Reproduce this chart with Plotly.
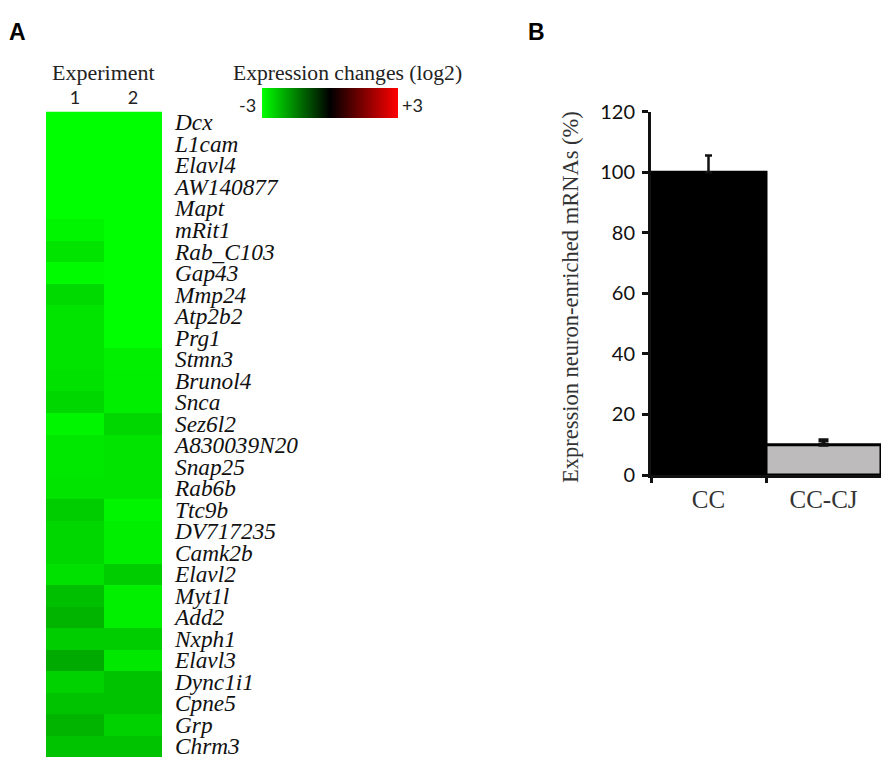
import plotly.graph_objects as go

W, H = 892, 766

genes = ["Dcx", "L1cam", "Elavl4", "AW140877", "Mapt", "mRit1", "Rab_C103", "Gap43", "Mmp24", "Atp2b2",
         "Prg1", "Stmn3", "Brunol4", "Snca", "Sez6l2", "A830039N20", "Snap25", "Rab6b", "Ttc9b", "DV717235",
         "Camk2b", "Elavl2", "Myt1l", "Add2", "Nxph1", "Elavl3", "Dync1i1", "Cpne5", "Grp", "Chrm3"]
experiments = ["1", "2"]
exp1 = [-3.0, -3.0, -3.0, -3.0, -3.0, -2.88, -2.68, -2.94, -2.56, -2.68,
        -2.68, -2.68, -2.65, -2.53, -2.88, -2.73, -2.73, -2.68, -2.41, -2.53,
        -2.53, -2.65, -2.24, -2.12, -2.41, -2.0, -2.47, -2.29, -2.12, -2.29]
exp2 = [-3.0, -3.0, -3.0, -3.0, -3.0, -3.0, -3.0, -3.0, -3.0, -3.0,
        -3.0, -2.82, -2.8, -2.8, -2.53, -2.68, -2.68, -2.68, -2.88, -2.8,
        -2.8, -2.41, -2.82, -2.82, -2.41, -2.73, -2.29, -2.29, -2.47, -2.29]

bar_groups = ["CC", "CC-CJ"]
bar_values = [100, 10]
bar_errors = [5.5, 1.5]
bar_colors = ["#000000", "#bdbbbc"]
err_thickness = [2.5, 4]
err_caps = [3.5, 5]
y_ticks = [0, 20, 40, 60, 80, 100, 120]

SERIF = "Liberation Serif"
SANS = "Lato"


def px_x(v):
    return v / W


def px_y(v):
    return 1 - v / H


fig = go.Figure()
fig.add_trace(go.Heatmap(
    z=[[a, b] for a, b in zip(exp1, exp2)],
    x=experiments,
    y=genes,
    zmin=-3, zmax=3,
    colorscale=[[0, "#00ff00"], [0.5, "#000000"], [1, "#ff0000"]],
    xaxis="x", yaxis="y",
    colorbar=dict(
        orientation="h", lenmode="pixels", len=136, thicknessmode="pixels", thickness=30,
        x=px_x(262), xanchor="left", y=px_y(118), yanchor="bottom",
        xpad=0, ypad=0, outlinewidth=0, showticklabels=False, ticks="",
    ),
))
for i in range(len(bar_groups)):
    fig.add_trace(go.Bar(
        x=[bar_groups[i]],
        y=[bar_values[i]],
        width=1,
        marker=dict(color=bar_colors[i], line=dict(color="#000000", width=3)),
        error_y=dict(type="data", symmetric=False, array=[bar_errors[i]], arrayminus=[0],
                     color="#111111", thickness=err_thickness[i], width=err_caps[i]),
        xaxis="x2", yaxis="y2",
        showlegend=False,
    ))

annotations = [
    dict(text="<b>A</b>", x=px_x(7), y=px_y(32), xanchor="left", font=dict(family="Liberation Sans", size=23, color="#000")),
    dict(text="<b>B</b>", x=px_x(526), y=px_y(32), xanchor="left", font=dict(family="Liberation Sans", size=23, color="#000")),
    dict(text="Experiment", x=px_x(103), y=px_y(73), font=dict(family=SERIF, size=22, color="#222")),
    dict(text="Expression changes (log2)", x=px_x(347.5), y=px_y(73), font=dict(family=SERIF, size=21.6, color="#222")),
    dict(text="-3", x=px_x(247), y=px_y(105), font=dict(family=SANS, size=18, color="#222")),
    dict(text="+3", x=px_x(412), y=px_y(105), font=dict(family=SANS, size=18, color="#222")),
    dict(text="Expression neuron-enriched mRNAs (%)", x=px_x(570), y=px_y(297), textangle=-90,
         font=dict(family=SERIF, size=22.5, color="#333")),
]
for a in annotations:
    a.update(xref="paper", yref="paper", showarrow=False, yanchor="middle", xanchor=a.get("xanchor", "center"))

fig.update_layout(
    width=W, height=H,
    margin=dict(l=0, r=0, t=0, b=0, autoexpand=False),
    paper_bgcolor="white", plot_bgcolor="white",
    annotations=annotations,
    showlegend=False,
    barmode="overlay",
    xaxis=dict(domain=[px_x(46), px_x(162)], side="top", showgrid=False, zeroline=False, ticks="", automargin=False,
               tickfont=dict(family=SANS, size=18, color="#222"), ticklabelstandoff=3, showline=False),
    yaxis=dict(domain=[px_y(757), px_y(111.5)], side="right", autorange="reversed", showgrid=False, automargin=False,
               zeroline=False, ticks="", anchor="x", tickmode="array", tickvals=genes,
               ticktext=[f"<i>{g}</i>" for g in genes], ticklabelstandoff=12,
               tickfont=dict(family=SERIF, size=23.3, color="#111")),
    xaxis2=dict(domain=[px_x(651), px_x(881)], anchor="y2", type="category", range=[-0.5, 1.5], automargin=False,
                tickson="boundaries", ticks="outside", ticklen=5, tickwidth=3, tickcolor="#111",
                showline=True, linecolor="#111", linewidth=3, showgrid=False, zeroline=False,
                tickfont=dict(family=SERIF, size=25, color="#333")),
    yaxis2=dict(domain=[px_y(475), px_y(111.7)], anchor="x2", range=[0, 120], tickvals=y_ticks, automargin=False,
                ticks="outside", ticklen=6, tickwidth=3, tickcolor="#111", ticklabelstandoff=3,
                showline=True, linecolor="#111", linewidth=3, showgrid=False, zeroline=False,
                tickfont=dict(family=SANS, size=20, color="#111")),
)

fig.write_html("out.html", config={"displayModeBar": False}, post_script="document.body.style.margin='0';")
